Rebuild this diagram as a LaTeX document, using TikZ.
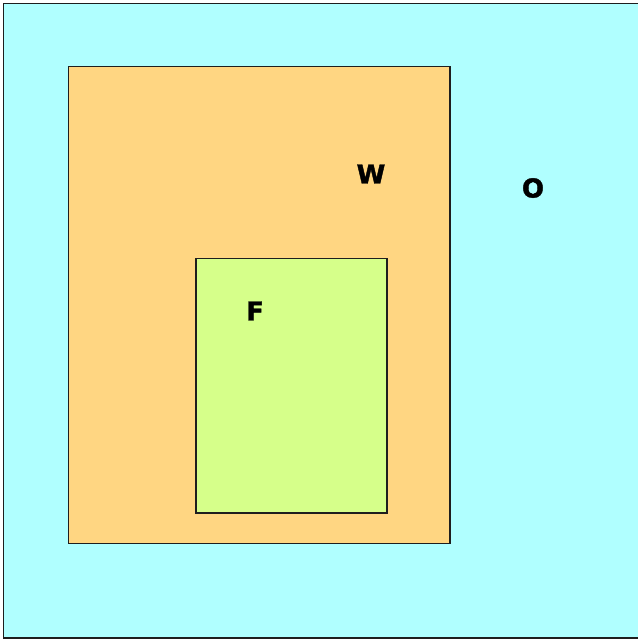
\documentclass[tikz,border=0pt]{standalone}
\usepackage{fontspec}
\setmainfont{DejaVu Sans}
\newfontfamily\heavyfont{DejaVu Sans Bold}[FakeBold=1.6]
\definecolor{cyanbg}{RGB}{176,255,255}
\definecolor{orangebox}{RGB}{255,214,130}
\definecolor{greenbox}{RGB}{214,255,138}
\definecolor{edge}{RGB}{30,30,30}
\tikzset{
  region/.style={draw=edge, line width=0.8pt},
  lbl/.style={font=\fontsize{19.5}{21}\heavyfont, text=black, inner sep=0pt}
}
\begin{document}
\begin{tikzpicture}[x=0.75pt,y=-0.75pt]
\useasboundingbox (0,0) rectangle (637,640);
\fill[white] (0,0) rectangle (637,640);
\draw[region, fill=cyanbg] (3.5,3.5) rectangle (640,638);
\draw[region, fill=orangebox] (68.5,66.5) rectangle (450,543.5);
\draw[region, fill=greenbox] (196,258.5) rectangle (387,513);
\node[lbl] (W) at (371,174) {W};
\node[lbl] (O) at (533,188) {O};
\node[lbl] (F) at (255,311) {F};
\end{tikzpicture}
\end{document}
